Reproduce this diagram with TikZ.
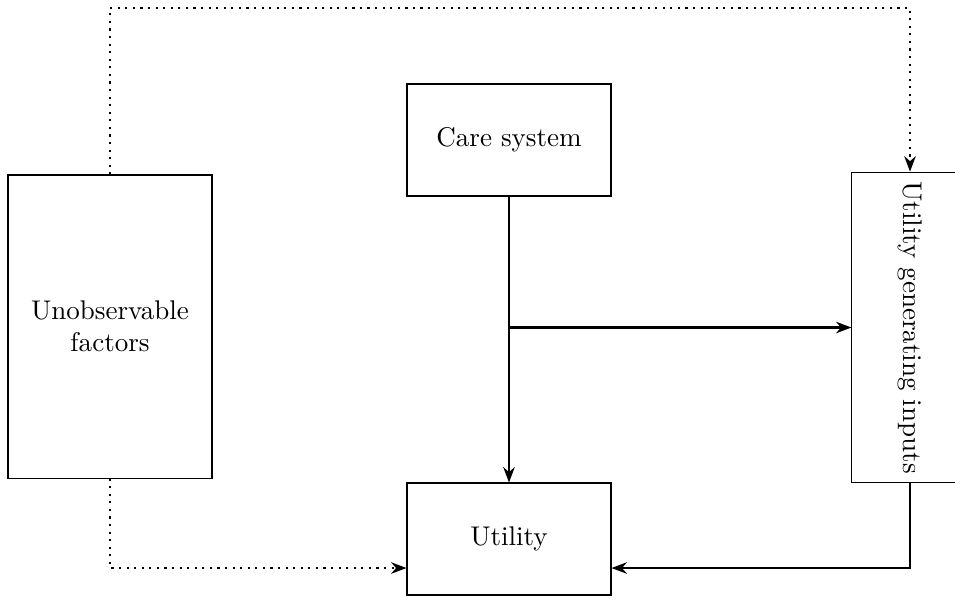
\documentclass[tikz,border=0pt]{standalone}
\usepackage{tikz}
\usetikzlibrary{calc,arrows.meta}

\tikzset{
	box/.style={draw, align=center, minimum width=2.652cm},
	solidarrow/.style={thick, -{Stealth[length=2mm]}},
	dotarrow/.style={thick, dotted, -{Stealth[length=2mm]}}
}

\begin{document}
\begin{tikzpicture}[x=0.013cm, y=-0.013cm]
			%%%%% START %%%%%
			
			\useasboundingbox (0, 0) rectangle (955, 599);
			
			\node[box, minimum height=1.456cm] (care) at (509, 140) {Care system};
			\node[box, minimum height=3.94cm] (unobs) at (110, 326.5) {Unobservable\\factors};
			\node[box, minimum height=1.456cm] (util) at (509, 539) {Utility};
			\node[box, minimum width=1.51cm, minimum height=4.04cm] (ugi) at (910, 327.5) {\rotatebox{-90}{Utility generating inputs}};
			
			\draw[solidarrow] (care.south) -- (util.north);
			\draw[solidarrow] (care.south |- ugi.west) -- (ugi.west);
			\draw[solidarrow] (ugi.south) |- ([yshift=-0.377cm]util.east);
			
			\draw[dotarrow] (unobs.north) -- (unobs.north |- 0, 8) -| (ugi.north);
			\draw[dotarrow] (unobs.south) |- ([yshift=-0.377cm]util.west);
			
			%%%%% END %%%%%
		\end{tikzpicture}
\end{document}
